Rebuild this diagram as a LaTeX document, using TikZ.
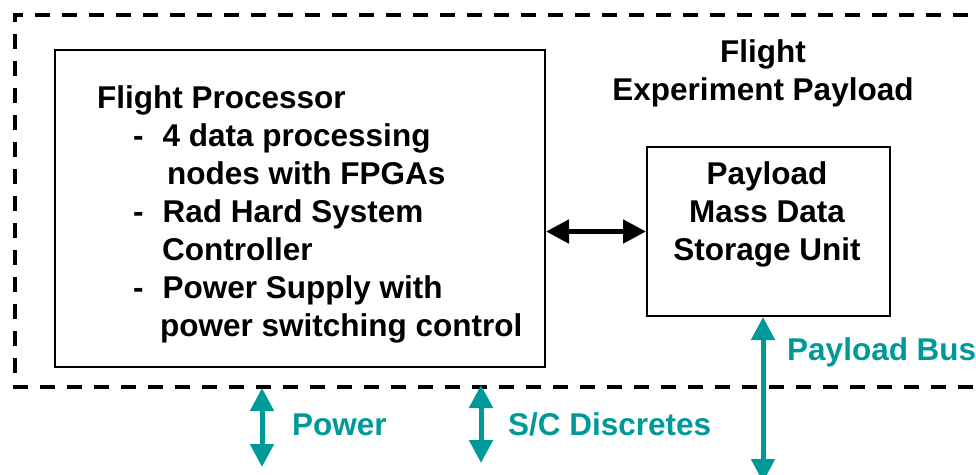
\documentclass[tikz,border=0pt]{standalone}
\usepackage{fontspec}
\setmainfont{Liberation Sans}
\usetikzlibrary{arrows.meta,positioning}
\definecolor{busteal}{RGB}{0,153,153}
\begin{document}
\begin{tikzpicture}[x=1pt,y=1pt,line join=miter,font=\fontsize{31.5}{38}\selectfont\bfseries,
	box/.style={draw,line width=2pt,inner sep=0pt},
	link/.style={line width=5pt,{Triangle[length=23pt,width=23pt]}-{Triangle[length=23pt,width=23pt]}},
	sigline/.style={link,draw=busteal},
	siglabel/.style={text=busteal,anchor=base west,inner sep=0pt}]
	\def\bul{\hspace*{36pt}-\hspace*{19pt}}
	\useasboundingbox (0,0) rectangle (976,-474);
	
	\draw[dash pattern=on 15pt off 12pt,line width=4pt] (995,-15)--(15,-15)--(15,-387)--(995,-387);
	\node[align=center,anchor=base,inner sep=0pt] (payload) at (763,-100) {Flight\\Experiment Payload};
	
	\node[box,minimum width=490pt,minimum height=317pt] (fp) at (300,-208.5) {};
	\node[anchor=base west,align=left,inner sep=0pt] (fptext) at (97,-336) {Flight Processor\\
		\bul 4 data processing\\
		\hspace*{70pt}nodes with FPGAs\\
		\bul Rad Hard System\\
		\hspace*{65pt}Controller\\
		\bul Power Supply with\\
		\hspace*{63pt}power switching control};
	
	\node[box,minimum width=243pt,minimum height=169pt] (mdsu) at (768.5,-231.5) {};
	\node[align=center,anchor=base,inner sep=0pt] (mdsutext) at (767,-260) {Payload\\Mass Data\\Storage Unit};
	\draw[link] (mdsu.west -| fp.east)--(mdsu.west);
	
	\coordinate (pwrtop) at (262,-388);
	\coordinate (pwrbot) at (262,-467);
	\coordinate (sctop) at (481,-385);
	\coordinate (scbot) at (481,-463);
	\coordinate (busbot) at (763,-482);
	\draw[sigline] (pwrtop)--(pwrbot);
	\draw[sigline] (sctop)--(scbot);
	\draw[sigline] (mdsu.south -| busbot)--(busbot);
	\node[siglabel] (pwr) at (292,-435) {Power};
	\node[siglabel] (sc) at (508,-435) {S/C Discretes};
	\node[siglabel] (bus) at (787,-360) {Payload Bus};
\end{tikzpicture}
\end{document}
